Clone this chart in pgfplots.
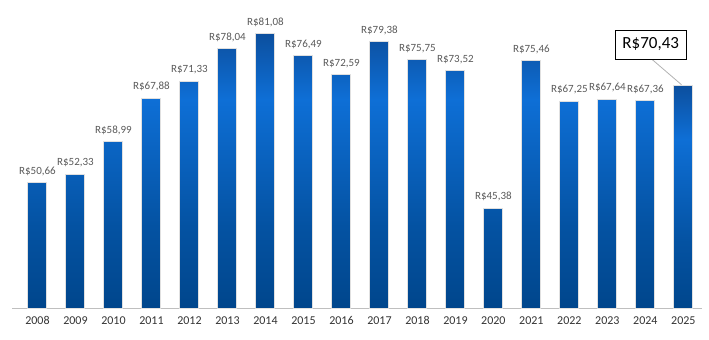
\documentclass[border=0pt]{standalone}
\usepackage{pgfplots}
\pgfplotsset{compat=1.18}
\usepackage{pgfplotstable}
\usepackage{fontspec}
\setmainfont{Carlito}
\definecolor{barTop}{HTML}{0C4F9E}
\definecolor{barLight}{HTML}{0E6FD6}
\definecolor{barBottom}{HTML}{00468C}
\definecolor{labGray}{HTML}{595959}
\definecolor{tickGray}{HTML}{333333}
\pgfdeclareverticalshading{barshade}{100bp}{color(0bp)=(barBottom); color(25bp)=(barBottom); color(40bp)=(barBottom!70!barLight); color(63bp)=(barLight); color(75bp)=(barTop); color(100bp)=(barTop)}
\pgfplotstableread{
x v lab
0 50.66 50,66
1 52.33 52,33
2 58.99 58,99
3 67.88 67,88
4 71.33 71,33
5 78.04 78,04
6 81.08 81,08
7 76.49 76,49
8 72.59 72,59
9 79.38 79,38
10 75.75 75,75
11 73.52 73,52
12 45.38 45,38
13 75.46 75,46
14 67.25 67,25
15 67.64 67,64
16 67.36 67,36
}\data
\pgfplotstableread{
x v
17 70.43
}\last
\begin{document}
\begin{tikzpicture}
\useasboundingbox (0,0) rectangle (709bp,340bp);
\begin{axis}[
  at={(12bp,32bp)}, anchor=south west,
  scale only axis, width=690bp, height=308bp,
  xmin=-0.67, xmax=17.49, ymin=0, ymax=62.9,
  axis x line*=bottom, axis y line=none,
  axis line style={draw=black!25, line width=0.8bp, -},
  xtick={0,...,17},
  xticklabels={2008,2009,2010,2011,2012,2013,2014,2015,2016,2017,2018,2019,2020,2021,2022,2023,2024,2025},
  major tick length=0pt,
  xticklabel style={font=\fontsize{12bp}{14bp}\selectfont, text=tickGray, yshift=-5bp},
  ytick=\empty,
  ybar, bar width=19bp,
  clip=false,
]
\addplot[ybar, bar shift=0pt, draw=black!12, line width=1bp,
  shade, shading=barshade,
  nodes near coords={R\$\pgfplotspointmeta},
  point meta=explicit symbolic,
  every node near coord/.append style={font=\fontsize{11bp}{13bp}\selectfont, text=labGray, yshift=3bp}]
  table[x=x, y expr=\thisrow{v}-25, meta=lab]{\data};
\addplot[ybar, bar shift=0pt, draw=black!12, line width=1bp,
  shade, shading=barshade]
  table[x=x, y expr=\thisrow{v}-25]{\last};
\draw[black!30, line width=0.8bp] (axis cs:16.17,50.8) -- (axis cs:16.95,45.6);
\node[draw=black, line width=0.8bp, fill=white, font=\fontsize{17bp}{19bp}\selectfont,
  inner xsep=4bp, inner ysep=3bp, minimum width=71bp, minimum height=29bp]
  at (axis cs:16.14,53.8) {R\$70,43};
\end{axis}
\end{tikzpicture}
\end{document}
